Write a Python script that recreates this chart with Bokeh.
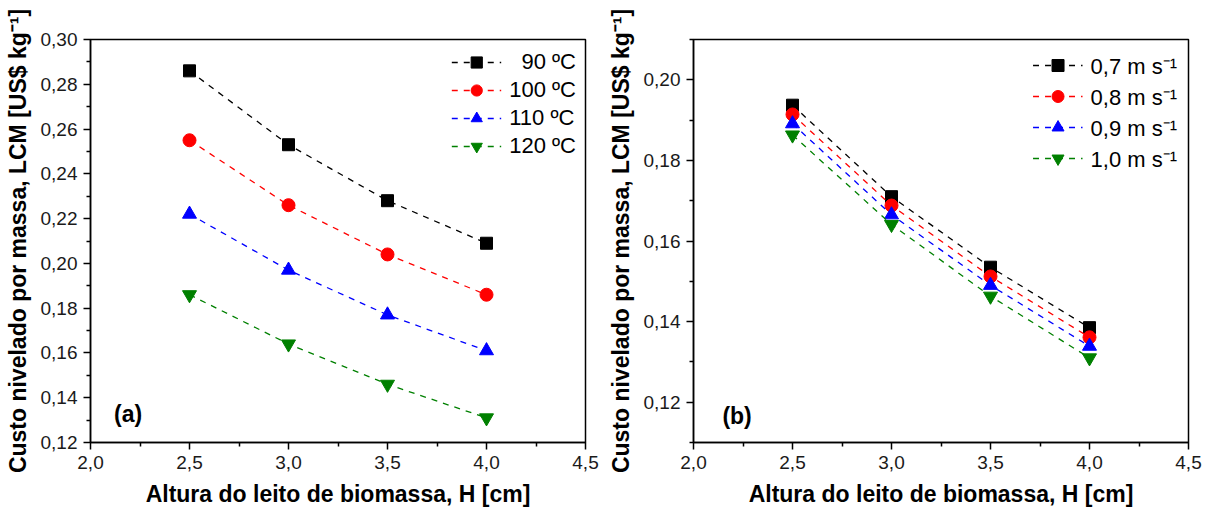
from bokeh.plotting import figure
from bokeh.layouts import row
from bokeh.models import FixedTicker, Label, Legend, LegendItem
from bokeh.embed import file_html
from bokeh.resources import INLINE

# ---------------- data ----------------
H = [2.5, 3.0, 3.5, 4.0]

# panel (a): temperature series
temp_labels = ["\u200790 ºC", "100 ºC", "110 ºC", "120 ºC"]
lcm_90C = [0.286, 0.253, 0.228, 0.209]
lcm_100C = [0.255, 0.226, 0.204, 0.186]
lcm_110C = [0.222, 0.197, 0.177, 0.161]
lcm_120C = [0.186, 0.164, 0.146, 0.131]

# panel (b): air velocity series
vel_labels = ["0,7 m s\u207b\u00b9", "0,8 m s\u207b\u00b9", "0,9 m s\u207b\u00b9", "1,0 m s\u207b\u00b9"]
lcm_07 = [0.1937, 0.1710, 0.1535, 0.1385]
lcm_08 = [0.1914, 0.1688, 0.1512, 0.1361]
lcm_09 = [0.1891, 0.1665, 0.1490, 0.1339]
lcm_10 = [0.1863, 0.1641, 0.1463, 0.1310]

x_ticks = [2.0, 2.5, 3.0, 3.5, 4.0, 4.5]
x_tick_labels = ["2,0", "2,5", "3,0", "3,5", "4,0", "4,5"]
x_minor = [2.25, 2.75, 3.25, 3.75, 4.25]

ya_ticks = [0.12, 0.14, 0.16, 0.18, 0.20, 0.22, 0.24, 0.26, 0.28, 0.30]
ya_tick_labels = ["0,12", "0,14", "0,16", "0,18", "0,20", "0,22", "0,24", "0,26", "0,28", "0,30"]
ya_minor = [0.13, 0.15, 0.17, 0.19, 0.21, 0.23, 0.25, 0.27, 0.29]

yb_ticks = [0.12, 0.14, 0.16, 0.18, 0.20]
yb_tick_labels = ["0,12", "0,14", "0,16", "0,18", "0,20"]
yb_minor = [0.11, 0.13, 0.15, 0.17, 0.19, 0.21]

x_title = "Altura do leito de biomassa, H [cm]"
y_title = "Custo nivelado por massa, LCM [US$ kg\u207b\u00b9]"

colors = ["black", "red", "blue", "green"]
markers = ["square", "circle", "triangle", "inverted_triangle"]
marker_sizes = [12, 13, 14, 14]

FONT = "Liberation Sans"


def make_panel(series, labels, yr, yt, ytl, ymin, tag, tag_xy, width, height,
               bl, br, bt, bb, leg_font, leg_glyph_h, leg_spacing, leg_pad):
    p = figure(width=width, height=height, x_range=(2.0, 4.5), y_range=yr,
               output_backend="svg", toolbar_location=None,
               min_border_left=bl, min_border_right=br,
               min_border_top=bt, min_border_bottom=bb)
    p.xgrid.visible = False
    p.ygrid.visible = False
    p.outline_line_color = "black"
    p.outline_line_width = 1.5
    p.outline_line_alpha = 1.0

    p.xaxis.ticker = FixedTicker(ticks=x_ticks, minor_ticks=x_minor)
    p.xaxis.major_label_overrides = dict(zip(x_ticks, x_tick_labels))
    p.yaxis.ticker = FixedTicker(ticks=yt, minor_ticks=ymin)
    p.yaxis.major_label_overrides = dict(zip(yt, ytl))

    for ax in (p.xaxis[0], p.yaxis[0]):
        ax.axis_line_width = 1.5
        ax.axis_line_color = "black"
        ax.major_tick_in = 0
        ax.major_tick_out = 7
        ax.minor_tick_in = 0
        ax.minor_tick_out = 4
        ax.major_tick_line_width = 1.5
        ax.minor_tick_line_width = 1.5
        ax.major_tick_line_color = "black"
        ax.minor_tick_line_color = "black"
        ax.major_label_text_font = FONT
        ax.major_label_text_font_size = "19px"
        ax.major_label_text_color = "#1a1a1a"
        ax.major_label_standoff = 6
        ax.axis_label_text_font = FONT
        ax.axis_label_text_font_style = "bold"
        ax.axis_label_text_color = "black"

    p.xaxis.axis_label = x_title
    p.xaxis.axis_label_text_font_size = "23px"
    p.xaxis.axis_label_standoff = 9
    p.yaxis.axis_label = y_title
    p.yaxis.axis_label_text_font_size = "23px"
    p.yaxis.axis_label_standoff = 7

    items = []
    for ys, lab, c, m, s in zip(series, labels, colors, markers, marker_sizes):
        r1 = p.line(H, ys, line_color=c, line_width=1.3, line_dash="6 6")
        r2 = p.scatter(H, ys, marker=m, size=s, fill_color=c, line_color=c)
        items.append(LegendItem(label=lab, renderers=[r1, r2]))

    leg = Legend(items=items, location="top_right", margin=0, padding=leg_pad,
                 glyph_width=50, glyph_height=leg_glyph_h, label_height=leg_glyph_h,
                 label_standoff=8, spacing=leg_spacing,
                 label_text_font=FONT, label_text_font_size=leg_font,
                 label_text_color="black",
                 border_line_alpha=0, background_fill_alpha=0)
    p.add_layout(leg)

    p.add_layout(Label(x=tag_xy[0], y=tag_xy[1], text=tag, text_font=FONT,
                       text_font_style="bold", text_font_size="23px",
                       text_align="center", text_baseline="middle",
                       text_color="black"))
    return p


pa = make_panel([lcm_90C, lcm_100C, lcm_110C, lcm_120C], temp_labels,
                (0.12, 0.30), ya_ticks, ya_tick_labels, ya_minor,
                "(a)", (2.19, 0.1327), 600, 516, 90, 15, 39, 74,
                "22px", 28, 0, 9)
pb = make_panel([lcm_07, lcm_08, lcm_09, lcm_10], vel_labels,
                (0.11, 0.21), yb_ticks, yb_tick_labels, yb_minor,
                "(b)", (2.22, 0.1165), 611, 516, 93, 23, 39, 70,
                "22px", 30, 1, 11)

layout = row(pa, pb)
open("out.html", "w").write(file_html(layout, INLINE))
